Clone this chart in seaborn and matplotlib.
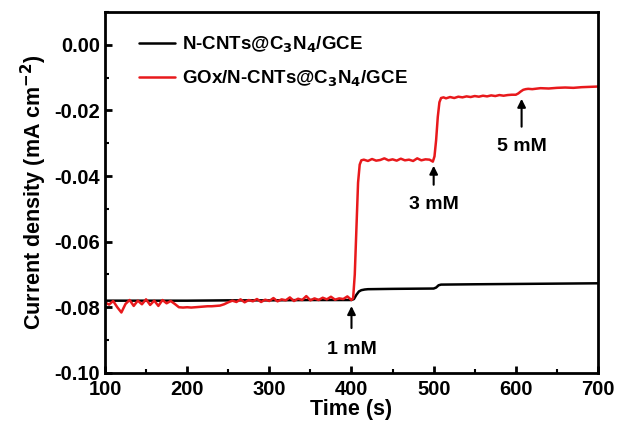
import matplotlib
matplotlib.use("Agg")
import matplotlib.pyplot as plt
from matplotlib.ticker import MultipleLocator
import seaborn as sns
import pandas as pd

sns.set_style("ticks")
plt.rcParams.update(
    {
        "font.family": ["Liberation Sans", "DejaVu Sans"],
        "font.weight": "bold",
        "mathtext.default": "bf",
        "text.color": "black",
        "axes.labelcolor": "black",
        "axes.edgecolor": "black",
        "xtick.color": "black",
        "ytick.color": "black",
        "axes.linewidth": 2,
        "xtick.direction": "in",
        "ytick.direction": "in",
        "xtick.major.size": 5,
        "ytick.major.size": 5,
        "xtick.minor.size": 3,
        "ytick.minor.size": 3,
        "xtick.major.width": 2,
        "ytick.major.width": 2,
        "xtick.minor.width": 1.5,
        "ytick.minor.width": 1.5,
    }
)

# bare electrode (black)
t_bare = [100, 150, 200, 250, 300, 350, 400, 403, 406, 409, 412, 416, 420, 450, 500,
          503, 506, 509, 550, 600, 650, 700]
j_bare = [-0.0780, -0.0780, -0.0780, -0.0779, -0.0779, -0.0778, -0.0778, -0.0775,
          -0.0762, -0.0752, -0.0748, -0.0746, -0.0745, -0.0744, -0.0743,
          -0.0740, -0.0733, -0.0731, -0.0730, -0.0729, -0.0728, -0.0727]

# enzyme electrode (red)
t_gox = [100, 105, 110, 115, 120, 125, 130, 135, 140, 145, 150, 155, 160, 165, 170,
         175, 180, 185, 190, 195, 200, 205, 210, 215, 220, 225, 230, 235, 240, 245,
         250, 255, 260, 265, 270, 275, 280, 285, 290, 295, 300, 305, 310, 315, 320,
         325, 330, 335, 340, 345, 350, 355, 360, 365, 370, 375, 380, 385, 390, 395,
         400, 402, 404, 406, 408, 410, 412, 415, 420, 425, 430, 435, 440, 445, 450,
         455, 460, 465, 470, 475, 480, 485, 490, 495, 499, 501, 503, 505, 507, 509,
         512, 515, 520, 525, 530, 535, 540, 545, 550, 555, 560, 565, 570, 575, 580,
         585, 590, 595, 600, 603, 606, 609, 612, 615, 620, 630, 640, 650, 660, 670,
         680, 690, 700]
j_gox = [-0.0785, -0.0792, -0.0781, -0.0800, -0.0816, -0.0790, -0.0778, -0.0796,
         -0.0780, -0.0791, -0.0776, -0.0793, -0.0780, -0.0796, -0.0778, -0.0788,
         -0.0781, -0.0790, -0.0800, -0.0801, -0.0800, -0.0801, -0.0800, -0.0799,
         -0.0798, -0.0797, -0.0797, -0.0796, -0.0795, -0.0791, -0.0785, -0.0780,
         -0.0784, -0.0776, -0.0785, -0.0778, -0.0782, -0.0775, -0.0784, -0.0777,
         -0.0781, -0.0772, -0.0782, -0.0776, -0.0779, -0.0770, -0.0781, -0.0774,
         -0.0778, -0.0766, -0.0779, -0.0773, -0.0778, -0.0771, -0.0776, -0.0768,
         -0.0777, -0.0773, -0.0775, -0.0767, -0.0778, -0.0772, -0.0700, -0.0560,
         -0.0420, -0.0365, -0.0352, -0.0350, -0.0354, -0.0348, -0.0353, -0.0351,
         -0.0346, -0.0352, -0.0349, -0.0353, -0.0347, -0.0352, -0.0350, -0.0354,
         -0.0346, -0.0352, -0.0349, -0.0350, -0.0356, -0.0340, -0.0290, -0.0220,
         -0.0175, -0.0162, -0.0160, -0.0163, -0.0159, -0.0162, -0.0158, -0.0160,
         -0.0157, -0.0159, -0.0156, -0.0158, -0.0155, -0.0157, -0.0154, -0.0156,
         -0.0153, -0.0155, -0.0153, -0.0152, -0.0152, -0.0148, -0.0142, -0.0137,
         -0.0135, -0.0134, -0.0135, -0.0132, -0.0133, -0.0131, -0.0130, -0.0131,
         -0.0129, -0.0128, -0.0127]

label_bare = "N-CNTs@C$_3$N$_4$/GCE"
label_gox = "GOx/N-CNTs@C$_3$N$_4$/GCE"

df = pd.concat(
    [
        pd.DataFrame({"t": t_bare, "j": j_bare, "electrode": label_bare}),
        pd.DataFrame({"t": t_gox, "j": j_gox, "electrode": label_gox}),
    ]
)

# additions of glucose
add_t = [400, 500, 607]
add_labels = ["1 mM", "3 mM", "5 mM"]
tip_y = [-0.0788, -0.0360, -0.0156]
tail_y = [-0.0872, -0.0435, -0.0258]
text_y = [-0.0930, -0.0487, -0.0310]

fig, ax = plt.subplots(figsize=(6.21, 4.32), dpi=100)
fig.subplots_adjust(left=0.169, right=0.963, bottom=0.137, top=0.972)

sns.lineplot(
    data=df, x="t", y="j", hue="electrode", palette=["black", "#e8191c"],
    linewidth=1.8, estimator=None, sort=False, ax=ax,
)

for x, lab, ty, tl, tx in zip(add_t, add_labels, tip_y, tail_y, text_y):
    ax.annotate(
        "", xy=(x, ty), xytext=(x, tl),
        arrowprops=dict(arrowstyle="-|>", color="black", lw=1.5, mutation_scale=12),
    )
    ax.text(x, tx, lab, ha="center", va="center", fontsize=14, fontweight="bold")

ax.set_xlim(100, 700)
ax.set_ylim(-0.10, 0.01)
ax.set_yticks([-0.10, -0.08, -0.06, -0.04, -0.02, 0.00])
ax.xaxis.set_minor_locator(MultipleLocator(50))
ax.yaxis.set_minor_locator(MultipleLocator(0.01))
ax.set_yticklabels(["-0.10", "-0.08", "-0.06", "-0.04", "-0.02", "0.00"])
ax.tick_params(labelsize=14.5)
ax.tick_params(axis="x", pad=5)
ax.set_xlabel("Time (s)", fontsize=15.5, fontweight="bold", labelpad=0)
ax.set_ylabel("Current density (mA cm$^{-2}$)", fontsize=15.5, fontweight="bold", labelpad=4)

ax.legend(
    loc="upper left", bbox_to_anchor=(0.035, 0.985), frameon=False, fontsize=13.5,
    handlelength=1.9, handletextpad=0.4, labelspacing=0.75,
)

fig.savefig("out.png", dpi=100)
